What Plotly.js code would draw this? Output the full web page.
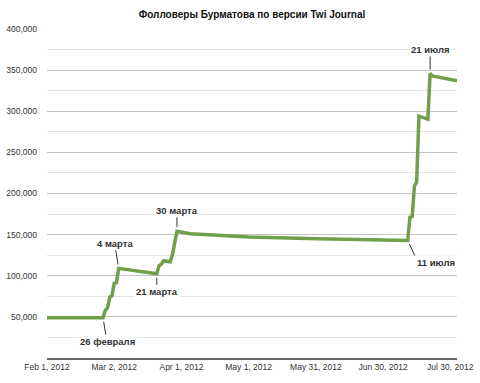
<!DOCTYPE html>
<html>
<head>
<meta charset="utf-8">
<script src="https://cdn.plot.ly/plotly-3.0.1.min.js"></script>
<style>html,body{margin:0;padding:0;background:#fff;}#chart{width:480px;height:383px;}</style>
</head>
<body>
<div id="chart"></div>
<script>
const dates = ['2012-02-01','2012-02-26','2012-02-27','2012-02-28','2012-02-29','2012-03-01','2012-03-02','2012-03-03','2012-03-04',
  '2012-03-21','2012-03-22','2012-03-23','2012-03-24','2012-03-27','2012-03-28','2012-03-30',
  '2012-04-05','2012-04-13','2012-05-01','2012-06-01','2012-07-11',
  '2012-07-12','2012-07-13','2012-07-14','2012-07-15','2012-07-16','2012-07-20','2012-07-21','2012-07-22','2012-08-02'];
const followers = [49000,49000,58000,61000,74000,75500,91000,91500,109000,
  102500,112000,114000,118000,117000,126000,154000,
  151000,149500,147000,145000,143000,
  171000,172000,209000,214000,294000,290500,346000,343000,337000];

const tickDates = ['2012-02-01','2012-03-02','2012-04-01','2012-05-01','2012-05-31','2012-06-30','2012-07-30'];
const tickLabels = ['Feb 1, 2012','Mar 2, 2012','Apr 1, 2012','May 1, 2012','May 31, 2012','Jun 30, 2012','Jul 30, 2012'];
const yTicks = [50000,100000,150000,200000,250000,300000,350000,400000];
const yTickLabels = ['50,000','100,000','150,000','200,000','250,000','300,000','350,000','400,000'];
const yMinorTicks = [25000,75000,125000,175000,225000,275000,325000,375000];

const noteDates = ['2012-02-26','2012-03-04','2012-03-21','2012-03-30','2012-07-11','2012-07-21'];
const noteValues = [49000,109000,102500,154000,143000,346000];
const noteTexts = ['26 февраля','4 марта','21 марта','30 марта','11 июля','21 июля'];
const noteOffsets = [[4,24],[-4,-25],[0,18],[0,-21],[7,15],[0,-24]];

const annFont = {family:'Liberation Sans, Arial, sans-serif', size:9.5, color:'#333'};
const annotations = noteTexts.map((t,i)=>{
  const a = {x:noteDates[i], y:noteValues[i], xref:'x', yref:'y', text:'<b>'+t+'</b>',
    showarrow:true, arrowhead:0, arrowwidth:1, arrowcolor:'#333',
    ax:noteOffsets[i][0], ay:noteOffsets[i][1], standoff:4, font:annFont, bgcolor:'#fff', borderpad:1};
  if (i===4){ a.xanchor='left'; a.yanchor='top'; }
  return a;
});

const trace = {x:dates, y:followers, type:'scatter', mode:'lines',
  line:{color:'#70a04c', width:3.5}, hoverinfo:'skip'};

const layout = {
  width:480, height:383,
  margin:{l:47, r:23, t:29, b:25},
  paper_bgcolor:'#fff', plot_bgcolor:'#fff',
  showlegend:false,
  title:{text:'<b>Фолловеры Бурматова по версии Twi Journal</b>', x:0.5, xref:'paper', y:1-14/383, yref:'container', yanchor:'middle',
    font:{family:'Liberation Sans, Arial, sans-serif', size:10, color:'#111'}},
  font:{family:'Liberation Sans, Arial, sans-serif', size:8.5, color:'#333'},
  xaxis:{type:'date', range:['2012-02-01','2012-08-02'], tickvals:tickDates, ticktext:tickLabels,
    showgrid:false, zeroline:false, showline:true, linecolor:'#666', linewidth:1.5, ticks:'',
    tickfont:{size:8.5, color:'#333'}, fixedrange:true},
  yaxis:{range:[0,400000], tickvals:yTicks, ticktext:yTickLabels, showgrid:true, gridcolor:'#c4c4c4', gridwidth:1,
    minor:{tickvals:yMinorTicks, showgrid:true, gridcolor:'#e4e4e4', gridwidth:1},
    zeroline:false, showline:false, ticks:'', ticklabelstandoff:9,
    tickfont:{size:8.5, color:'#333'}, fixedrange:true},
  annotations:annotations
};

Plotly.newPlot('chart', [trace], layout, {displayModeBar:false, staticPlot:true});
</script>
</body>
</html>
